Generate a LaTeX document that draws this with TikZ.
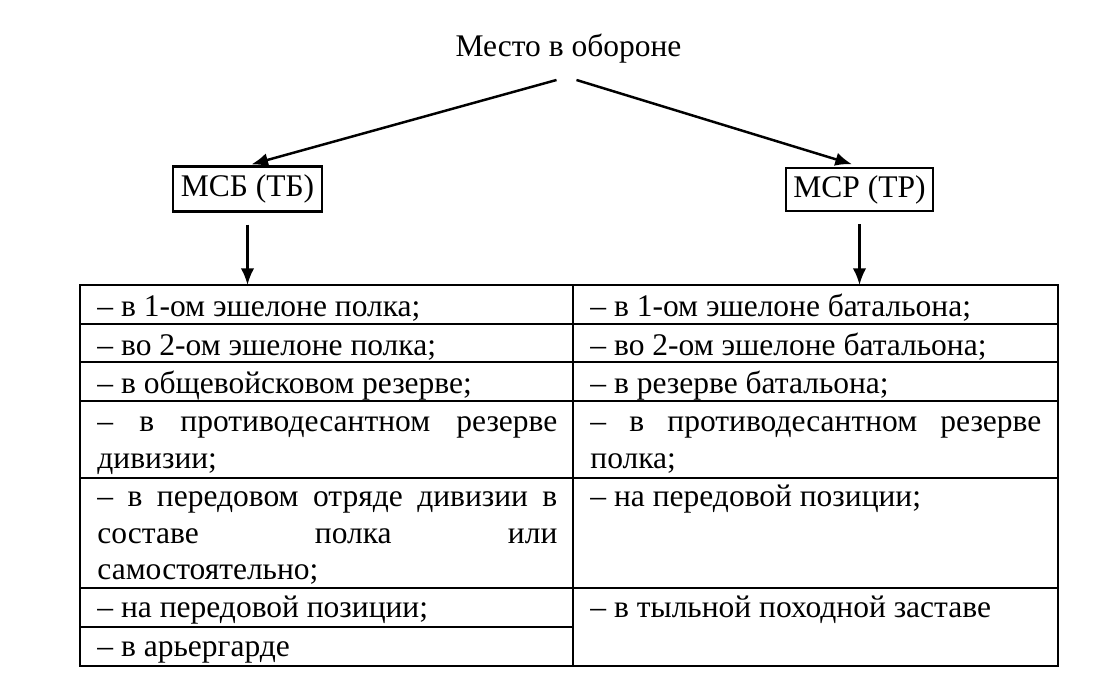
\documentclass[tikz,border=0pt]{standalone}
\usepackage{fontspec}
\setmainfont{Liberation Serif}
\usetikzlibrary{arrows.meta}
\usetikzlibrary{calc}

\begin{document}
\begin{tikzpicture}[x=0.4444pt, y=-0.4444pt,
        every node/.style={font=\fontsize{14}{16.2}\selectfont},
        unitbox/.style={draw, line width=1.3pt, inner sep=0pt},
        arr/.style={line width=1.1pt, -{Latex[length=7.4pt, width=6pt]}},
        tbl/.style={line width=1.3pt},
        cell/.style={anchor=base west, inner sep=0pt, text width=204.4pt, align=justify},
        rcell/.style={cell, text width=200.4pt}]
    \useasboundingbox (0,0) rectangle (1120,692);

    % draw title and the two unit boxes
    \node[anchor=base, inner sep=0pt] (top) at (568.5,57) {Место в обороне};
    \node[unitbox, minimum width=66.2pt, minimum height=19.6pt] (msb) at (247.5,189) {МСБ (ТБ)};
    \node[unitbox, minimum width=65.3pt, minimum height=19.1pt] (msr) at (859.5,189.5) {МСР (ТР)};
    \coordinate (tabtop) at (80,285);

    % draw arrows
    \draw[arr, shorten >=1.8pt] ($(top.base)+(-12,23)$) -- (msb.north);
    \draw[arr, shorten >=3.5pt] ($(top.base)+(8,23)$) -- (msr.north);
    \draw[arr] ($(msb.south)+(0,12)$) -- (msb.south |- tabtop);
    \draw[arr] ($(msr.south)+(0,12)$) -- (msr.south |- tabtop);

    % draw table grid
    \draw[tbl] (80,285) rectangle (1058,666);
    \draw[tbl] (573,285) -- (573,666);
    \foreach \y in {324,362,401,478,588}
        \draw[tbl] (80,\y) -- (1058,\y);
    \draw[tbl] (80,627) -- (573,627);

    % left column
    \node[cell] (l1) at (97,317) {– в 1-ом эшелоне полка;};
    \node[cell] (l2) at (97,356) {– во 2-ом эшелоне полка;};
    \node[cell] (l3) at (97,394) {– в общевойсковом резерве;};
    \node[cell] (l4) at (97,432) {– в противодесантном резерве\linebreak дивизии;};
    \node[cell] (l5) at (97,507) {– в передовом отряде дивизии в\linebreak составе полка или\linebreak самостоятельно;};
    \node[cell] (l6) at (97,618) {– на передовой позиции;};
    \node[cell] (l7) at (97,657) {– в арьергарде};

    % right column
    \node[rcell] (r1) at (590,317) {– в 1-ом эшелоне батальона;};
    \node[rcell] (r2) at (590,356) {– во 2-ом эшелоне батальона;};
    \node[rcell] (r3) at (590,394) {– в резерве батальона;};
    \node[rcell] (r4) at (590,432) {– в противодесантном резерве\linebreak полка;};
    \node[rcell] (r5) at (590,507) {– на передовой позиции;};
    \node[rcell] (r6) at (590,618) {– в тыльной походной заставе};
\end{tikzpicture}
\end{document}
